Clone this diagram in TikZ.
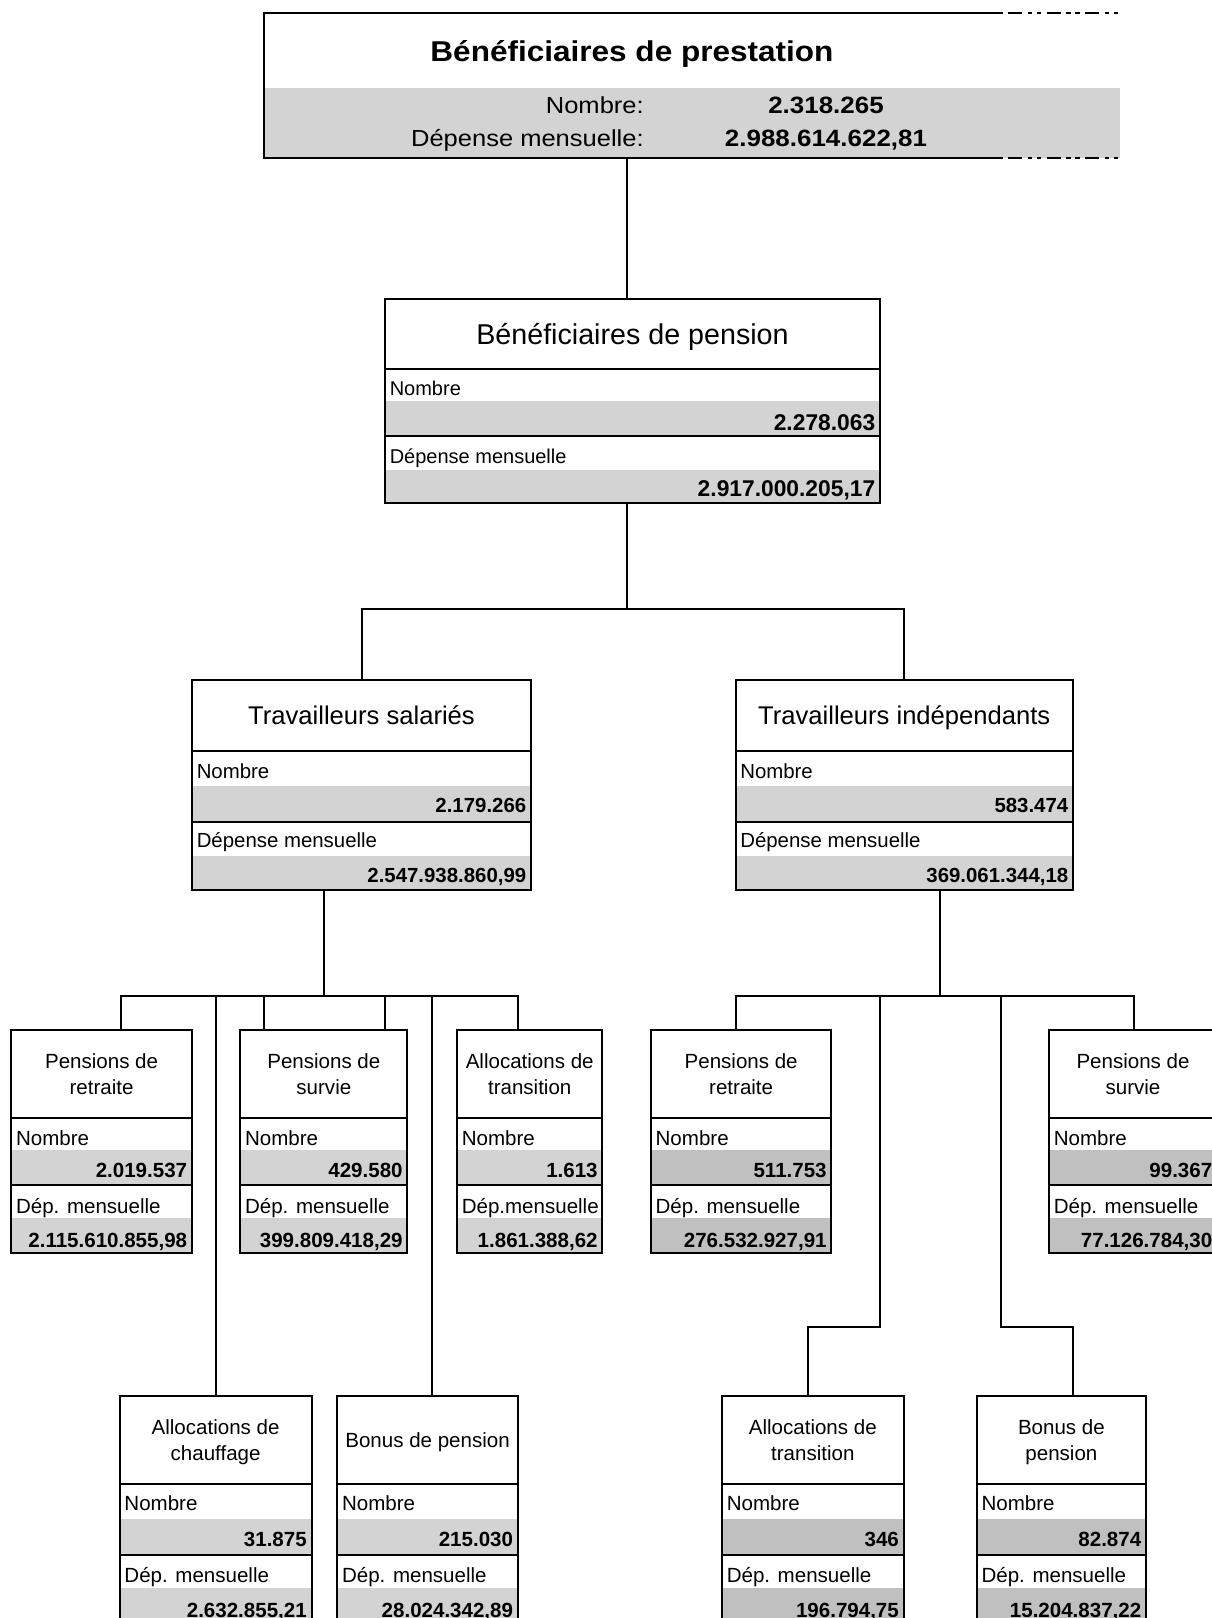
\documentclass[tikz,border=0pt]{standalone}
\usepackage{fontspec}
\setmainfont{Liberation Sans}
\usetikzlibrary{fit}
\definecolor{lg}{HTML}{D3D3D3}
\definecolor{dg}{HTML}{C0C0C0}

% row layouts per level
\newcommand\rowdefsA{%
  \def\rYtop{299}\def\rYa{369}\def\rYb{401}\def\rYc{435.5}\def\rYd{469.5}\def\rYbot{503}%
  \def\rBn{395}\def\rBnv{430}\def\rBd{463.5}\def\rBdv{496.5}%
  \def\rTfont{\fontsize{21.5}{26}\selectfont}%
  \def\rLfont{\fontsize{15}{18}\selectfont}%
  \def\rVfont{\fontsize{17.1}{20}\selectfont\bfseries}}
\newcommand\rowdefsB{%
  \def\rYtop{680}\def\rYa{751}\def\rYb{786}\def\rYc{821.5}\def\rYd{856}\def\rYbot{890}%
  \def\rBn{778.5}\def\rBnv{812}\def\rBd{847.5}\def\rBdv{882}%
  \def\rTfont{\fontsize{19.2}{23}\selectfont}%
  \def\rLfont{\fontsize{15.3}{18}\selectfont}%
  \def\rVfont{\fontsize{15.3}{18}\selectfont\bfseries}}
\newcommand\rowdefsC{%
  \def\rYtop{1030}\def\rYa{1118}\def\rYb{1150}\def\rYc{1185}\def\rYd{1218}\def\rYbot{1253}%
  \def\rBn{1145}\def\rBnv{1177.5}\def\rBd{1213.5}\def\rBdv{1247}%
  \def\rTfont{\fontsize{15.4}{19.3}\selectfont}%
  \def\rLfont{\fontsize{15.4}{18}\selectfont}%
  \def\rVfont{\fontsize{15.4}{18}\selectfont\bfseries}}
\newcommand\rowdefsD{%
  \def\rYtop{1396}\def\rYa{1484.3}\def\rYb{1518.5}\def\rYc{1554.5}\def\rYd{1588.3}\def\rYbot{1623}%
  \def\rBn{1510.5}\def\rBnv{1546.5}\def\rBd{1582.5}\def\rBdv{1617}%
  \def\rTfont{\fontsize{15.4}{19.3}\selectfont}%
  \def\rLfont{\fontsize{15.4}{18}\selectfont}%
  \def\rVfont{\fontsize{15.4}{18}\selectfont\bfseries}}

% #1 name, #2 left, #3 right, #4 level, #5 colour, #6 title, #7 number, #8 expense label, #9 expense value
\newcommand\databox[9]{%
  \csname rowdefs#4\endcsname
  \fill[#5] (#2,\rYb) rectangle (#3,\rYc);
  \fill[#5] (#2,\rYd) rectangle (#3,\rYbot);
  \draw[boxline] (#2,\rYa) -- (#3,\rYa);
  \draw[boxline] (#2,\rYc) -- (#3,\rYc);
  \node[frame, fit={(#2,\rYtop)(#3,\rYbot)}] (#1) {};
  \node[ttl, font=\rTfont] (#1-t) at ({(#2+#3)/2},{(\rYtop+\rYa)/2}) {#6};
  \node[lbl, font=\rLfont] (#1-nl) at ({#2+4.5},\rBn) {Nombre};
  \node[val, font=\rVfont] (#1-nv) at ({#3-4.5},\rBnv) {#7};
  \node[lbl, font=\rLfont] (#1-dl) at ({#2+4.5},\rBd) {#8};
  \node[val, font=\rVfont] (#1-dv) at ({#3-4.5},\rBdv) {#9};
}

\begin{document}
\begin{tikzpicture}[x=0.75pt,y=-0.75pt,
  boxline/.style={draw=black, line width=1.5pt},
  frame/.style={draw=black, line width=1.5pt, inner sep=0pt, rectangle},
  conn/.style={draw=black, line width=1.5pt},
  ttl/.style={anchor=center, align=center, inner sep=0pt, text depth=0pt},
  lbl/.style={anchor=base west, inner sep=0pt},
  val/.style={anchor=base east, inner sep=0pt},
  dashdotdot/.style={draw=black, line width=1.5pt,
    dash pattern=on 10.5pt off 4.3pt on 3.2pt off 3.5pt on 3.2pt off 4.3pt},
  toplabel/.style={anchor=base east, inner sep=0pt, font=\fontsize{17.4}{20}\selectfont},
  topvalue/.style={anchor=base, inner sep=0pt, font=\fontsize{17.7}{20}\selectfont\bfseries},
]
\useasboundingbox (0,0) rectangle (1211,1618);

% ---------- top box ----------
\fill[lg] (264,87.5) rectangle (1120,158);
\node[inner sep=0pt, fit={(264,12.5)(1119,158)}] (top) {};
\draw[boxline] (1003,12.5) -- (264,12.5) -- (264,158) -- (1003,158);
\draw[dashdotdot] (1008,12.5) -- (1119,12.5);
\draw[dashdotdot] (1008,158) -- (1119,158);
\node[anchor=base, inner sep=0pt, font=\fontsize{21.5}{26}\selectfont\bfseries] (top-t) at (632,61.5)
  {\scalebox{1.1}[1]{Bénéficiaires de prestation}};
\node[toplabel] (top-nl) at (644,113) {\scalebox{1.1}[1]{Nombre:}};
\node[topvalue] (top-nv) at (826,113) {\scalebox{1.1}[1]{2.318.265}};
\node[toplabel] (top-dl) at (644,146.5) {\scalebox{1.1}[1]{Dépense mensuelle:}};
\node[topvalue] (top-dv) at (826,146.5) {\scalebox{1.1}[1]{2.988.614.622,81}};

% ---------- boxes ----------
\databox{pension}{385}{880}{A}{lg}{Bénéficiaires de pension}{2.278.063}{Dépense mensuelle}{2.917.000.205,17}

\databox{sal}{192}{531}{B}{lg}{Travailleurs salariés}{2.179.266}{Dépense mensuelle}{2.547.938.860,99}
\databox{ind}{735.5}{1073}{B}{lg}{Travailleurs indépendants}{583.474}{Dépense mensuelle}{369.061.344,18}

\databox{prS}{11.3}{191.9}{C}{lg}{Pensions de\\retraite}{2.019.537}{Dép. mensuelle}{2.115.610.855,98}
\databox{psS}{240.3}{407.4}{C}{lg}{Pensions de\\survie}{429.580}{Dép. mensuelle}{399.809.418,29}
\databox{atS}{457}{602.4}{C}{lg}{Allocations de\\transition}{1.613}{Dép.mensuelle}{1.861.388,62}
\databox{prI}{650.9}{831.4}{C}{dg}{Pensions de\\retraite}{511.753}{Dép. mensuelle}{276.532.927,91}
\databox{psI}{1049}{1217}{C}{dg}{Pensions de\\survie}{99.367}{Dép. mensuelle}{77.126.784,30}

\databox{acS}{119.7}{311.5}{D}{lg}{Allocations de\\chauffage}{31.875}{Dép. mensuelle}{2.632.855,21}
\databox{bpS}{337.3}{517.8}{D}{lg}{Bonus de pension}{215.030}{Dép. mensuelle}{28.024.342,89}
\databox{atI}{722}{903.6}{D}{dg}{Allocations de\\transition}{346}{Dép. mensuelle}{196.794,75}
\databox{bpI}{976.8}{1146}{D}{dg}{Bonus de\\pension}{82.874}{Dép. mensuelle}{15.204.837,22}

% ---------- connector guide coordinates ----------
\coordinate (cA) at (627,0);
\coordinate (busA) at (0,608.6);
\coordinate (busS) at (0,995.5);
\coordinate (elb) at (0,1326.5);
\coordinate (cS) at (324,0);
\coordinate (cI) at (940,0);
\coordinate (s1) at (120.7,0);
\coordinate (s2) at (215.6,0);
\coordinate (s3) at (264,0);
\coordinate (s4) at (384.7,0);
\coordinate (s5) at (432.2,0);
\coordinate (s6) at (517.8,0);
\coordinate (i1) at (735.5,0);
\coordinate (i2) at (880,0);
\coordinate (i2b) at (807.7,0);
\coordinate (i3) at (1000.7,0);
\coordinate (i3b) at (1072.8,0);
\coordinate (i4) at (1133.6,0);

% ---------- connectors ----------
\draw[conn] (top.south -| cA) -- (pension.north -| cA);
\draw[conn] (pension.south -| cA) -- (cA |- busA);
\draw[conn] (sal.north) -- (sal.north |- busA) -- (ind.north |- busA) -- (ind.north);

\draw[conn] (sal.south -| cS) -- (cS |- busS);
\draw[conn] (prS.north -| s1) -- (s1 |- busS) -- (s6 |- busS) -- (atS.north -| s6);
\draw[conn] (s2 |- busS) -- (acS.north -| s2);
\draw[conn] (s3 |- busS) -- (psS.north -| s3);
\draw[conn] (s4 |- busS) -- (psS.north -| s4);
\draw[conn] (s5 |- busS) -- (bpS.north -| s5);

\draw[conn] (ind.south -| cI) -- (cI |- busS);
\draw[conn] (prI.north -| i1) -- (i1 |- busS) -- (i4 |- busS) -- (psI.north -| i4);
\draw[conn] (i2 |- busS) -- (i2 |- elb) -- (i2b |- elb) -- (atI.north -| i2b);
\draw[conn] (i3 |- busS) -- (i3 |- elb) -- (i3b |- elb) -- (bpI.north -| i3b);
\end{tikzpicture}
\end{document}
